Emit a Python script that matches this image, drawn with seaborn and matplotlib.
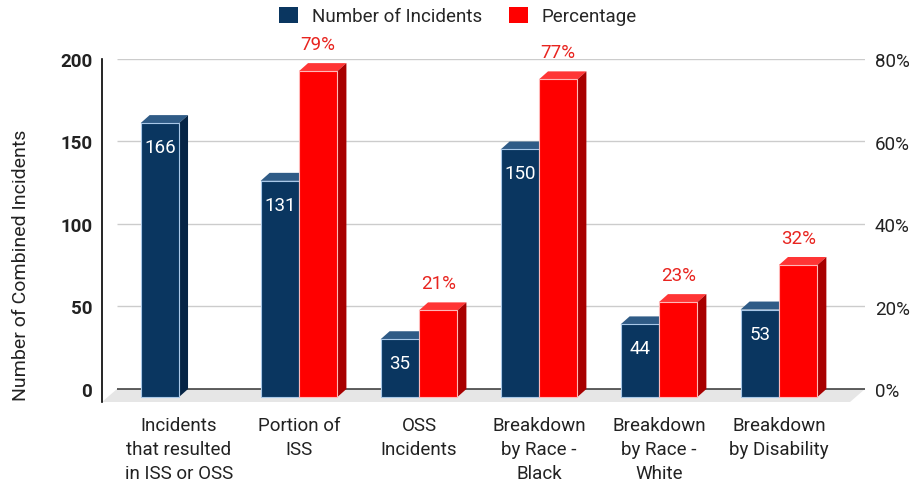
import numpy as np
import pandas as pd
import matplotlib
matplotlib.use("Agg")
import matplotlib.pyplot as plt
import seaborn as sns
from matplotlib.patches import Polygon, Patch, Rectangle
from matplotlib.ticker import PercentFormatter

categories = ["Incidents\nthat resulted\nin ISS or OSS", "Portion of\nISS", "OSS\nIncidents",
              "Breakdown\nby Race -\nBlack", "Breakdown\nby Race -\nWhite", "Breakdown\nby Disability"]
incidents = [166, 131, 35, 150, 44, 53]
percentage = [np.nan, 79, 21, 77, 23, 32]
series = ["Number of Incidents", "Percentage"]
count_ticks = [0, 50, 100, 150, 200]
pct_ticks = [0, 20, 40, 60, 80]

navy, navy_top, navy_side, navy_edge = "#0a3660", "#2f5b86", "#062445", "#a9c8e8"
red, red_top, red_side, red_edge = "#ff0000", "#ff3535", "#a80000", "#ffb8b8"
label_red = "#e8241f"
ink = "#222222"

sns.set_style("white")
plt.rcParams["font.family"] = ["Roboto", "DejaVu Sans"]

df_count = pd.DataFrame({"category": categories, "series": series[0], "value": incidents})
df_pct = pd.DataFrame({"category": categories, "series": series[1], "value": percentage})
# both hue levels on each axis so the dodge positions line up
df_left = pd.concat([df_count, df_pct.assign(value=np.nan)], ignore_index=True)
df_right = pd.concat([df_count.assign(value=np.nan), df_pct], ignore_index=True)

fig = plt.figure(figsize=(9.1, 4.85), dpi=100)
ax = fig.add_axes([102 / 910, 1 - 403 / 485, 763 / 910, 343 / 485])
ax2 = ax.twinx()

sns.barplot(data=df_left, x="category", y="value", hue="series", hue_order=series,
            palette=[navy, red], saturation=1, width=0.64, errorbar=None, legend=False, ax=ax,
            edgecolor=navy_edge, linewidth=0.8, zorder=3)
sns.barplot(data=df_right, x="category", y="value", hue="series", hue_order=series,
            palette=[navy, red], saturation=1, width=0.64, errorbar=None, legend=False, ax=ax2,
            edgecolor=red_edge, linewidth=0.8, zorder=3)

xmin, xmax = -0.642, 5.717
ax.set_xlim(xmin, xmax)
ax.set_ylim(-7.88, 200)
ax2.set_ylim(-3.15, 80)


def px_to_data(a, dxp, dyp):
    inv = a.transData.inverted()
    p0 = inv.transform((0, 0))
    p1 = inv.transform((dxp, dyp))
    return p1 - p0


def extrude(a, top_c, side_c):
    dx, dy = px_to_data(a, 9, 8)
    bars = []
    for bar in list(a.patches):
        if not isinstance(bar, Rectangle):
            continue
        h = bar.get_height()
        if not np.isfinite(h) or h == 0:
            bar.set_visible(False)
            continue
        x0, w = bar.get_x(), bar.get_width()
        bar.set_y(-dy)
        top = [(x0, h - dy), (x0 + w, h - dy), (x0 + w + dx, h), (x0 + dx, h)]
        side = [(x0 + w, -dy), (x0 + w + dx, 0), (x0 + w + dx, h), (x0 + w, h - dy)]
        a.add_patch(Polygon(top, closed=True, fc=top_c, ec="none", zorder=2.9))
        a.add_patch(Polygon(side, closed=True, fc=side_c, ec="none", zorder=2.9))
        bars.append((x0 + w / 2, h))
    return bars


blue_bars = extrude(ax, navy_top, navy_side)
red_bars = extrude(ax2, red_top, red_side)

for cx, h in blue_bars:
    ax.annotate(f"{h:.0f}", (cx, h), xytext=(0, -37), textcoords="offset pixels",
                ha="center", va="baseline", color="white", fontsize=13.5, zorder=5)
for cx, h in red_bars:
    ax2.annotate(f"{h:.0f}%", (cx, h), xytext=(0, 14), textcoords="offset pixels",
                 ha="center", va="baseline", color=label_red, fontsize=13.5)

# floor and back-wall gridlines
gdx, gdy = px_to_data(ax, 15, 0)[0], 7.88
back_left = xmin + gdx
ax.add_patch(Polygon([(back_left, 0), (xmax, 0), (xmax - gdx, -gdy), (xmin, -gdy)],
                     closed=True, fc="#e6e6e6", ec="none", zorder=0.5))
ax.hlines(count_ticks[1:], back_left, xmax, color="#cccccc", lw=1.0, zorder=0.6)
ax.hlines(0, back_left, xmax, color="#333333", lw=1.1, zorder=0.7)

ax.set_yticks(count_ticks)
ax.set_yticklabels([str(t) for t in count_ticks], fontweight="bold")
ax.tick_params(axis="y", length=0, pad=7, labelsize=13.5, labelcolor=ink)
ax.tick_params(axis="x", length=0, pad=10, labelsize=13.5, labelcolor=ink)
for lab in ax.get_xticklabels():
    lab.set_linespacing(1.45)
ax2.set_yticks(pct_ticks)
ax2.yaxis.set_major_formatter(PercentFormatter(xmax=100, decimals=0))
ax2.tick_params(axis="y", length=0, pad=7, labelsize=13.5, labelcolor=ink)

ax.set_xlabel("")
ax2.set_xlabel("")
ax2.set_ylabel("")
ax.set_ylabel("Number of Combined Incidents", fontsize=14, color=ink)
ax.yaxis.set_label_coords(-0.094, 0.40)

for s in ["top", "right", "bottom"]:
    ax.spines[s].set_visible(False)
ax.spines["left"].set_color("black")
ax.spines["left"].set_linewidth(1.2)
for s in ax2.spines.values():
    s.set_visible(False)

handles = [Patch(fc=navy, ec="none", label=series[0]), Patch(fc=red, ec="none", label=series[1])]
fig.legend(handles=handles, loc="center", bbox_to_anchor=(458 / 910, 1 - 17 / 485), ncol=2,
           frameon=False, fontsize=13.5, handlelength=1.0, handleheight=0.95,
           handletextpad=0.75, columnspacing=1.45)

fig.savefig("out.png", dpi=100)
